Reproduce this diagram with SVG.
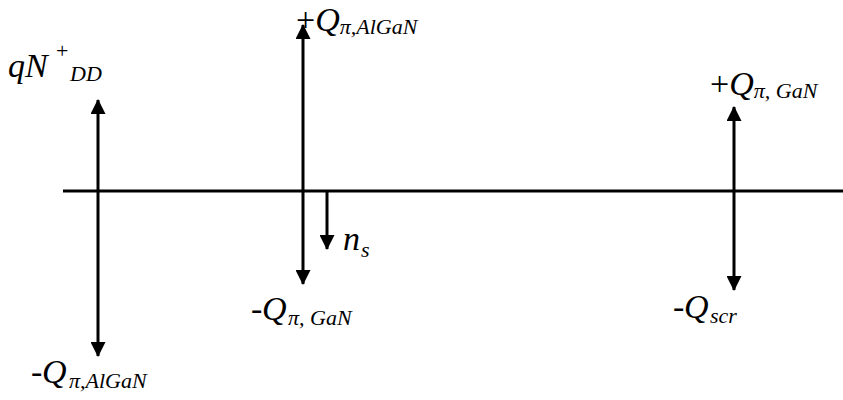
<svg xmlns="http://www.w3.org/2000/svg" width="843" height="400" viewBox="0 0 843 400">
<style>
.ln{stroke:#000;stroke-width:3;fill:none}
.t{font-family:"Liberation Serif","Times New Roman",serif;font-style:italic;fill:#000}
.big{font-size:34px}
.sub{font-size:22px}
.up{font-style:normal}
</style>
<defs>
<marker id="ah" viewBox="0 0 15 15" refX="14" refY="7.5" markerWidth="15" markerHeight="15" markerUnits="userSpaceOnUse" orient="auto-start-reverse">
<path d="M0,0 L15,7.5 L0,15 Z" fill="#000"/>
</marker>
</defs>
<rect width="843" height="400" fill="#fff"/>
<g id="connectors">
<line class="ln" x1="63" y1="191" x2="843" y2="191"/>
<line class="ln" x1="98" y1="100" x2="98" y2="356" marker-start="url(#ah)" marker-end="url(#ah)"/>
<line class="ln" x1="303" y1="25" x2="303" y2="284" marker-start="url(#ah)" marker-end="url(#ah)"/>
<line class="ln" x1="327" y1="191" x2="327" y2="249" marker-end="url(#ah)"/>
<line class="ln" x1="734" y1="107" x2="734" y2="290" marker-start="url(#ah)" marker-end="url(#ah)"/>
</g>
<g id="qNDD">
<text class="t"><tspan class="big" x="8" y="77">qN</tspan><tspan class="sub up" x="56" y="58">+</tspan><tspan class="sub" x="70" y="81">DD</tspan></text>
</g>
<g id="QpiAlGaN-plus">
<text class="t" x="296" y="31"><tspan class="big up">+</tspan><tspan class="big">Q</tspan><tspan class="sub" dy="3">π,AlGaN</tspan></text>
</g>
<g id="QpiGaN-plus">
<text class="t" x="710" y="95"><tspan class="big up">+</tspan><tspan class="big">Q</tspan><tspan class="sub" dy="3">π, GaN</tspan></text>
</g>
<g id="ns">
<text class="t"><tspan class="big" x="343" y="250">n</tspan><tspan class="sub" x="361" y="257">s</tspan></text>
</g>
<g id="QpiGaN-minus">
<text class="t"><tspan class="big up" x="251" y="320">-</tspan><tspan class="big" x="262" y="320">Q</tspan><tspan class="sub" x="288" y="325">π, GaN</tspan></text>
</g>
<g id="QpiAlGaN-minus">
<text class="t"><tspan class="big up" x="31" y="383">-</tspan><tspan class="big" x="42" y="383">Q</tspan><tspan class="sub" x="69" y="388">π,AlGaN</tspan></text>
</g>
<g id="Qscr">
<text class="t"><tspan class="big up" x="673" y="318">-</tspan><tspan class="big" x="684" y="318">Q</tspan><tspan class="sub" x="710" y="323">scr</tspan></text>
</g>
</svg>
